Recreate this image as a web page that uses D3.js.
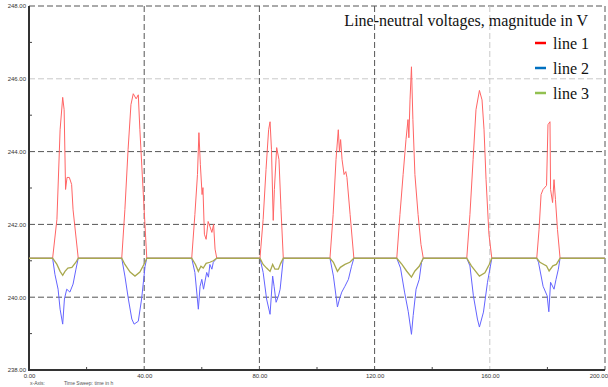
<!DOCTYPE html>
<html>
<head>
<meta charset="utf-8">
<script src="https://cdn.jsdelivr.net/npm/d3@7"></script>
<style>
  body { margin: 0; background: #fff; }
  svg { display: block; }
</style>
</head>
<body>
<div id="chart"></div>
<script>
// values: [time in h, voltage in V]
const baseline = 241.07;
const timeDomain = [0, 200];
const voltDomain = [238, 248];
const xTicks = [0, 40, 80, 120, 160, 200];
const xMinorTicks = [20, 60, 100, 140, 180];
const yTicks = [238, 240, 242, 244, 246, 248];
const yMinorTicks = [239, 241, 243, 245, 247];
const seriesNames = ["line 1", "line 2", "line 3"];

const line1 = [
  [0, 241.07],
  [8.2, 241.07], [9.7, 242.14], [10.8, 244.6], [11.7, 245.49], [12.2, 245.15], [12.7, 242.96], [13.2, 243.29], [14.0, 243.29], [14.8, 243.1], [15.3, 242.4], [17.1, 241.07],
  [32.2, 241.07], [33.3, 242.41], [34.4, 244.05], [35.4, 245.29], [36.2, 245.59], [37.2, 245.45], [37.95, 245.56], [38.5, 244.6], [39.6, 242.96], [40.9, 241.07],
  [56.5, 241.07], [57.6, 242.27], [58.5, 243.37], [59.0, 244.52], [59.5, 243.64], [60.1, 242.82], [60.4, 243.01], [60.9, 241.73], [61.5, 241.59], [62.2, 242.08], [62.8, 241.95], [63.5, 241.78], [64.1, 242.0], [64.6, 241.32], [65.2, 241.07],
  [80.2, 241.07], [81.3, 242.14], [82.3, 243.51], [83.2, 244.6], [83.7, 244.82], [84.2, 244.05], [84.8, 242.11], [85.2, 242.96], [86.0, 244.11], [86.8, 243.78], [87.5, 242.41], [88.3, 241.07],
  [104.5, 241.07], [105.6, 242.27], [106.6, 243.78], [107.4, 244.6], [107.8, 244.0], [108.2, 244.33], [108.7, 243.78], [109.4, 243.37], [110.0, 243.45], [110.4, 243.29], [111.5, 242.27], [112.8, 241.07],
  [127.7, 241.07], [128.8, 242.27], [129.9, 243.37], [130.9, 244.33], [131.6, 244.88], [131.9, 244.38], [132.3, 245.42], [132.8, 246.33], [133.3, 244.88], [134.0, 243.37], [135.1, 242.27], [136.1, 241.45], [136.9, 241.07],
  [152.0, 241.07], [153.1, 242.27], [154.2, 243.78], [155.2, 245.15], [156.4, 245.68], [157.3, 245.42], [158.0, 244.6], [158.7, 243.23], [159.7, 241.73], [160.7, 241.07],
  [176.3, 241.07], [177.1, 241.86], [177.8, 242.82], [178.5, 242.96], [179.7, 243.07], [180.2, 244.74], [180.9, 244.82], [181.1, 242.96], [181.8, 242.6], [182.3, 243.23], [182.8, 242.68], [183.5, 241.86], [184.4, 241.07],
  [200, 241.07]
];

const line2 = [
  [0, 241.07],
  [8.2, 241.07], [9.0, 240.63], [10.1, 240.22], [10.8, 239.67], [11.7, 239.26], [12.3, 239.95], [13.1, 240.22], [14.2, 240.14], [15.3, 240.36], [16.3, 240.77], [17.1, 241.07],
  [32.2, 241.07], [33.3, 240.58], [34.5, 239.95], [35.7, 239.4], [36.5, 239.26], [37.95, 239.34], [39.1, 239.95], [40.3, 240.85], [40.9, 241.07],
  [56.5, 241.07], [57.6, 240.68], [58.8, 239.67], [59.4, 240.3], [60.0, 240.49], [60.6, 240.22], [61.7, 240.68], [62.3, 240.55], [62.8, 240.9], [63.5, 240.77], [64.0, 240.96], [65.2, 241.07],
  [80.2, 241.07], [81.3, 240.68], [82.5, 239.95], [83.7, 239.53], [84.6, 240.58], [85.1, 240.3], [85.8, 239.86], [86.6, 240.03], [87.2, 240.22], [88.3, 241.07],
  [104.5, 241.07], [105.7, 240.58], [107.1, 239.73], [107.8, 239.95], [108.6, 240.14], [109.7, 240.3], [110.9, 240.49], [112.0, 240.85], [112.8, 241.07],
  [127.7, 241.07], [129.0, 240.8], [130.4, 240.14], [131.7, 239.6], [132.8, 238.98], [133.4, 239.5], [134.4, 240.22], [135.5, 240.49], [136.3, 240.96], [136.9, 241.07],
  [152.0, 241.07], [153.1, 240.86], [154.3, 240.04], [155.7, 239.4], [156.4, 239.18], [157.8, 239.59], [159.2, 240.41], [160.7, 241.07],
  [176.3, 241.07], [176.9, 240.96], [178.5, 240.3], [179.9, 240.04], [180.5, 239.6], [181.1, 240.41], [182.3, 240.22], [183.0, 240.49], [183.8, 240.77], [184.4, 241.07],
  [200, 241.07]
];

const line3 = [
  [0, 241.07],
  [8.2, 241.07], [9.7, 240.9], [10.8, 240.71], [11.7, 240.6], [12.5, 240.71], [13.5, 240.8], [14.9, 240.82], [16.3, 240.96], [17.1, 241.07],
  [32.2, 241.07], [33.3, 240.9], [35.1, 240.69], [36.8, 240.58], [38.5, 240.69], [40.3, 240.96], [40.9, 241.07],
  [56.5, 241.07], [57.8, 240.9], [58.8, 240.71], [59.7, 240.85], [60.5, 240.8], [61.5, 240.93], [62.8, 240.96], [64.0, 241.0], [65.2, 241.07],
  [80.2, 241.07], [81.3, 240.9], [82.5, 240.8], [83.7, 240.71], [84.6, 240.9], [85.4, 240.77], [86.6, 240.77], [87.4, 240.93], [88.3, 241.07],
  [104.5, 241.07], [105.7, 240.96], [107.1, 240.71], [108.1, 240.82], [109.7, 240.9], [111.4, 240.96], [112.8, 241.07],
  [127.7, 241.07], [129.5, 240.9], [131.1, 240.72], [132.8, 240.55], [134.0, 240.72], [135.5, 240.85], [136.9, 241.07],
  [152.0, 241.07], [153.6, 240.86], [156.4, 240.58], [158.3, 240.67], [159.8, 240.9], [160.7, 241.07],
  [176.3, 241.07], [177.4, 240.96], [179.7, 240.86], [180.6, 240.72], [181.9, 240.86], [183.1, 240.9], [184.4, 241.07],
  [200, 241.07]
];

const W = 608, H = 387;
const mLeft = 29, mRight = 605, mTop = 6, mBottom = 370;

const svg = d3.select("#chart").append("svg")
  .attr("width", W).attr("height", H);

const x = d3.scaleLinear().domain(timeDomain).range([mLeft, mRight]);
const y = d3.scaleLinear().domain(voltDomain).range([mBottom, mTop]);

// grid (dashed)
const lightY = 246, lightX = 160;
svg.append("g").selectAll("line")
  .data(yTicks.filter(d => d > voltDomain[0]))
  .join("line")
  .attr("x1", mLeft).attr("x2", mRight)
  .attr("y1", d => y(d)).attr("y2", d => y(d))
  .attr("stroke", d => d === lightY ? "#c8c8c8" : "#555")
  .attr("stroke-width", 1)
  .attr("stroke-dasharray", "6,3");
svg.append("g").selectAll("line")
  .data(xTicks.filter(d => d > timeDomain[0]))
  .join("line")
  .attr("x1", d => x(d)).attr("x2", d => x(d))
  .attr("y1", mTop).attr("y2", mBottom)
  .attr("stroke", d => d === lightX ? "#c8c8c8" : "#555")
  .attr("stroke-width", 1)
  .attr("stroke-dasharray", "6,3");

// axes
const yAxis = d3.axisLeft(y).tickValues(yTicks).tickSize(0).tickPadding(3)
  .tickFormat(d3.format(".2f"));
const gy = svg.append("g").attr("transform", `translate(${mLeft},0)`).call(yAxis);
gy.select(".domain").remove();
gy.selectAll("text").attr("font-size", 6).attr("fill", "#333")
  .attr("font-family", "Liberation Sans, Arial, sans-serif");

const xAxis = d3.axisBottom(x).tickValues(xTicks).tickSize(0).tickPadding(4)
  .tickFormat(d3.format(".2f"));
const gx = svg.append("g").attr("transform", `translate(0,${mBottom})`).call(xAxis);
gx.select(".domain").remove();
gx.selectAll("text").attr("font-size", 6).attr("fill", "#333")
  .attr("font-family", "Liberation Sans, Arial, sans-serif");
// keep the last label inside the window
gx.selectAll(".tick").filter(d => d === timeDomain[1]).select("text")
  .attr("text-anchor", "end").attr("dx", 2.5);

// minor ticks
svg.append("g").selectAll("line").data(yMinorTicks).join("line")
  .attr("x1", mLeft).attr("x2", mLeft + 3)
  .attr("y1", d => y(d)).attr("y2", d => y(d))
  .attr("stroke", "#444");
svg.append("g").selectAll("line").data(xMinorTicks).join("line")
  .attr("x1", d => x(d)).attr("x2", d => x(d))
  .attr("y1", mBottom).attr("y2", mBottom - 3)
  .attr("stroke", "#444");

// axis lines
svg.append("line").attr("x1", mLeft).attr("x2", mLeft).attr("y1", mTop).attr("y2", mBottom + 1)
  .attr("stroke", "#333").attr("stroke-width", 2);
svg.append("line").attr("x1", mLeft).attr("x2", mRight).attr("y1", mBottom).attr("y2", mBottom)
  .attr("stroke", "#333").attr("stroke-width", 2);

// series
const line = d3.line().x(d => x(d[0])).y(d => y(d[1]));
const series = [
  { data: line1, color: "#ff6464", width: 1 },
  { data: line2, color: "#6464ff", width: 1 },
  { data: line3, color: "#a9a94e", width: 1.3 }
];
svg.append("g").selectAll("path").data(series).join("path")
  .attr("fill", "none")
  .attr("stroke", d => d.color)
  .attr("stroke-width", d => d.width)
  .attr("d", d => line(d.data));

// legend
const legend = svg.append("g").attr("font-family", "Liberation Serif, Times New Roman, serif");
legend.append("text")
  .attr("x", 588).attr("y", 26)
  .attr("text-anchor", "end")
  .attr("font-size", 16)
  .attr("fill", "#111")
  .text("Line-neutral voltages, magnitude in V");
const legendColors = ["#ff0000", "#0070c0", "#92c050"];
const legendItems = legend.selectAll("g.item").data(seriesNames).join("g")
  .attr("class", "item")
  .attr("transform", (d, i) => `translate(0,${43 + i * 25})`);
legendItems.append("line")
  .attr("x1", 535).attr("x2", 546)
  .attr("stroke", (d, i) => legendColors[i])
  .attr("stroke-width", 2.5);
legendItems.append("text")
  .attr("x", 553).attr("y", 5.5)
  .attr("font-size", 16)
  .attr("fill", "#111")
  .text(d => d);

// axis caption
svg.append("text").attr("x", 30).attr("y", 385)
  .attr("font-size", 5).attr("fill", "#555")
  .attr("font-family", "Liberation Sans, Arial, sans-serif")
  .text("x-Axis:");
svg.append("text").attr("x", 64).attr("y", 385)
  .attr("font-size", 5).attr("fill", "#555")
  .attr("font-family", "Liberation Sans, Arial, sans-serif")
  .text("Time Sweep: time in h");
</script>
</body>
</html>
